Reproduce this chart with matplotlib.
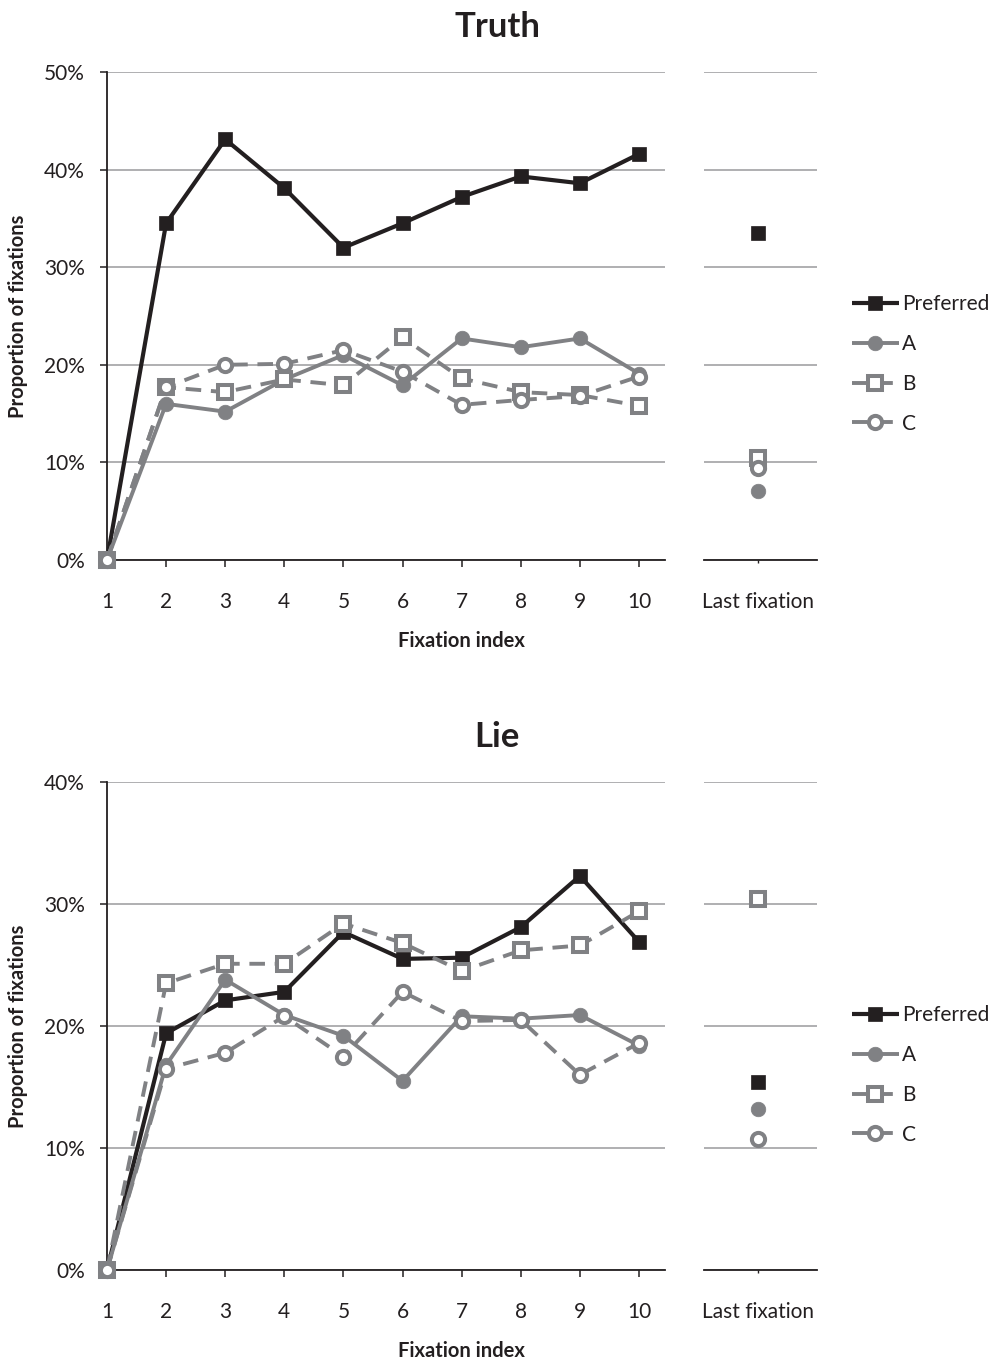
import matplotlib
matplotlib.use("Agg")
import matplotlib.pyplot as plt
from matplotlib.ticker import PercentFormatter

plt.rcParams['font.family'] = ['Lato', 'DejaVu Sans']

# ---------------- data ----------------
fixation_index = [1, 2, 3, 4, 5, 6, 7, 8, 9, 10]
series_names = ["Preferred", "A", "B", "C"]

truth_preferred = [0, 34.5, 43.1, 38.1, 32.0, 34.5, 37.2, 39.3, 38.6, 41.6]
truth_A = [0, 16.0, 15.2, 18.5, 21.0, 17.9, 22.7, 21.8, 22.7, 19.1]
truth_B = [0, 17.7, 17.2, 18.5, 17.9, 22.8, 18.6, 17.2, 16.9, 15.8]
truth_C = [0, 17.7, 20.0, 20.1, 21.5, 19.3, 15.9, 16.4, 16.8, 18.8]
truth_last = [33.5, 7.1, 10.4, 9.4]  # Preferred, A, B, C

lie_preferred = [0, 19.4, 22.1, 22.8, 27.7, 25.5, 25.6, 28.1, 32.3, 26.9]
lie_A = [0, 16.8, 23.8, 20.9, 19.2, 15.5, 20.8, 20.6, 20.9, 18.4]
lie_B = [0, 23.5, 25.1, 25.1, 28.4, 26.8, 24.5, 26.2, 26.6, 29.4]
lie_C = [0, 16.5, 17.8, 20.8, 17.5, 22.8, 20.4, 20.5, 16.0, 18.6]
lie_last = [15.4, 13.2, 30.4, 10.7]

last_label = ["Last fixation"]
titles = ["Truth", "Lie"]
ymax = [50, 40]

# ---------------- styles ----------------
BLACK = '#231f20'
GRAY = '#808184'
GRID = '#a9a9ab'
styles = [
    dict(color=BLACK, lw=3.0, ls='-', marker='s', ms=10, mfc=BLACK, mec=BLACK, mew=0.5),
    dict(color=GRAY, lw=2.8, ls='-', marker='o', ms=10.5, mfc=GRAY, mec=GRAY, mew=0.5),
    dict(color=GRAY, lw=2.8, ls=(0, (4, 2.5)), marker='s', ms=9.5, mfc='white', mec=GRAY, mew=2.9),
    dict(color=GRAY, lw=2.8, ls=(0, (4, 2.5)), marker='o', ms=9.5, mfc='white', mec=GRAY, mew=2.9),
]

W, H = 1005, 1364
fig = plt.figure(figsize=(W / 100, H / 100), dpi=100)

panels = [
    (titles[0], [truth_preferred, truth_A, truth_B, truth_C], truth_last, ymax[0], 72, 560, 27, 364),
    (titles[1], [lie_preferred, lie_A, lie_B, lie_C], lie_last, ymax[1], 782, 1270, 737, 1075),
]

FS = 15

for title, series, last, ym, ytop, ybot, ytitle, ylegend in panels:
    ax = fig.add_axes([107 / W, 1 - ybot / H, (665 - 107) / W, (ybot - ytop) / H])
    ax2 = fig.add_axes([704 / W, 1 - ybot / H, (817 - 704) / W, (ybot - ytop) / H])

    handles = []
    for name, vals, st in zip(series_names, series, styles):
        h, = ax.plot(fixation_index, vals, label=name, clip_on=False, zorder=3,
                     solid_capstyle='butt', dash_capstyle='butt', **st)
        handles.append(h)
    for i, (v, st) in enumerate(zip(last, styles)):
        s2 = dict(st)
        s2['ls'] = 'none'
        ax2.plot([0], [v], clip_on=False, zorder=3, **s2)

    for a in (ax, ax2):
        a.set_ylim(0, ym)
        a.set_yticks(range(0, ym + 1, 10))
        a.grid(axis='y', color=GRID, lw=1.3, zorder=0)
        a.set_axisbelow(True)
        for sp in ('top', 'right'):
            a.spines[sp].set_visible(False)
        a.spines['bottom'].set_color(BLACK)
        a.spines['bottom'].set_linewidth(1.3)
        a.spines['bottom'].set_zorder(2)

    ax.set_xlim(1, 10.44)
    ax.set_xticks(fixation_index)
    ax.set_xticklabels([str(i) for i in fixation_index])
    ax.yaxis.set_major_formatter(PercentFormatter(decimals=0))
    ax.spines['left'].set_color(BLACK)
    ax.spines['left'].set_linewidth(1.3)
    ax.tick_params(axis='y', direction='out', length=5, width=1.1, color=BLACK,
                   pad=11, labelsize=FS, labelcolor=BLACK)
    ax.tick_params(axis='x', direction='out', length=5, width=1.1, color=BLACK,
                   pad=18, labelsize=FS, labelcolor=BLACK)

    ax2.set_xlim(-0.48, 0.52)
    ax2.set_xticks([0])
    ax2.set_xticklabels(last_label)
    ax2.spines['left'].set_visible(False)
    ax2.tick_params(axis='y', left=False, labelleft=False)
    ax2.tick_params(axis='x', direction='out', length=2, width=1, color=BLACK,
                    pad=21, labelsize=FS, labelcolor=BLACK)

    ax.set_xlabel("Fixation index", fontsize=14.5, fontweight='bold', color=BLACK)
    ax.xaxis.set_label_coords((461 - 107) / 558, (560 - 641) / 488)
    ax.xaxis.label.set_verticalalignment('center')
    ax.set_ylabel("Proportion of fixations", fontsize=14.5, fontweight='bold', color=BLACK)
    ax.yaxis.set_label_coords((18 - 107) / 558, 0.5)
    ax.yaxis.label.set_verticalalignment('center')

    fig.text(497 / W, 1 - ytitle / H, title, ha='center', va='center',
             fontsize=25, fontweight='bold', color=BLACK)

    fig.legend(handles=handles, loc='center left',
               bbox_to_anchor=(852 / W, 1 - ylegend / H), frameon=False,
               fontsize=FS, handlelength=2.25, handletextpad=0.15,
               labelspacing=0.95, borderpad=0, borderaxespad=0,
               labelcolor=BLACK)

fig.savefig("out.png", dpi=100)
